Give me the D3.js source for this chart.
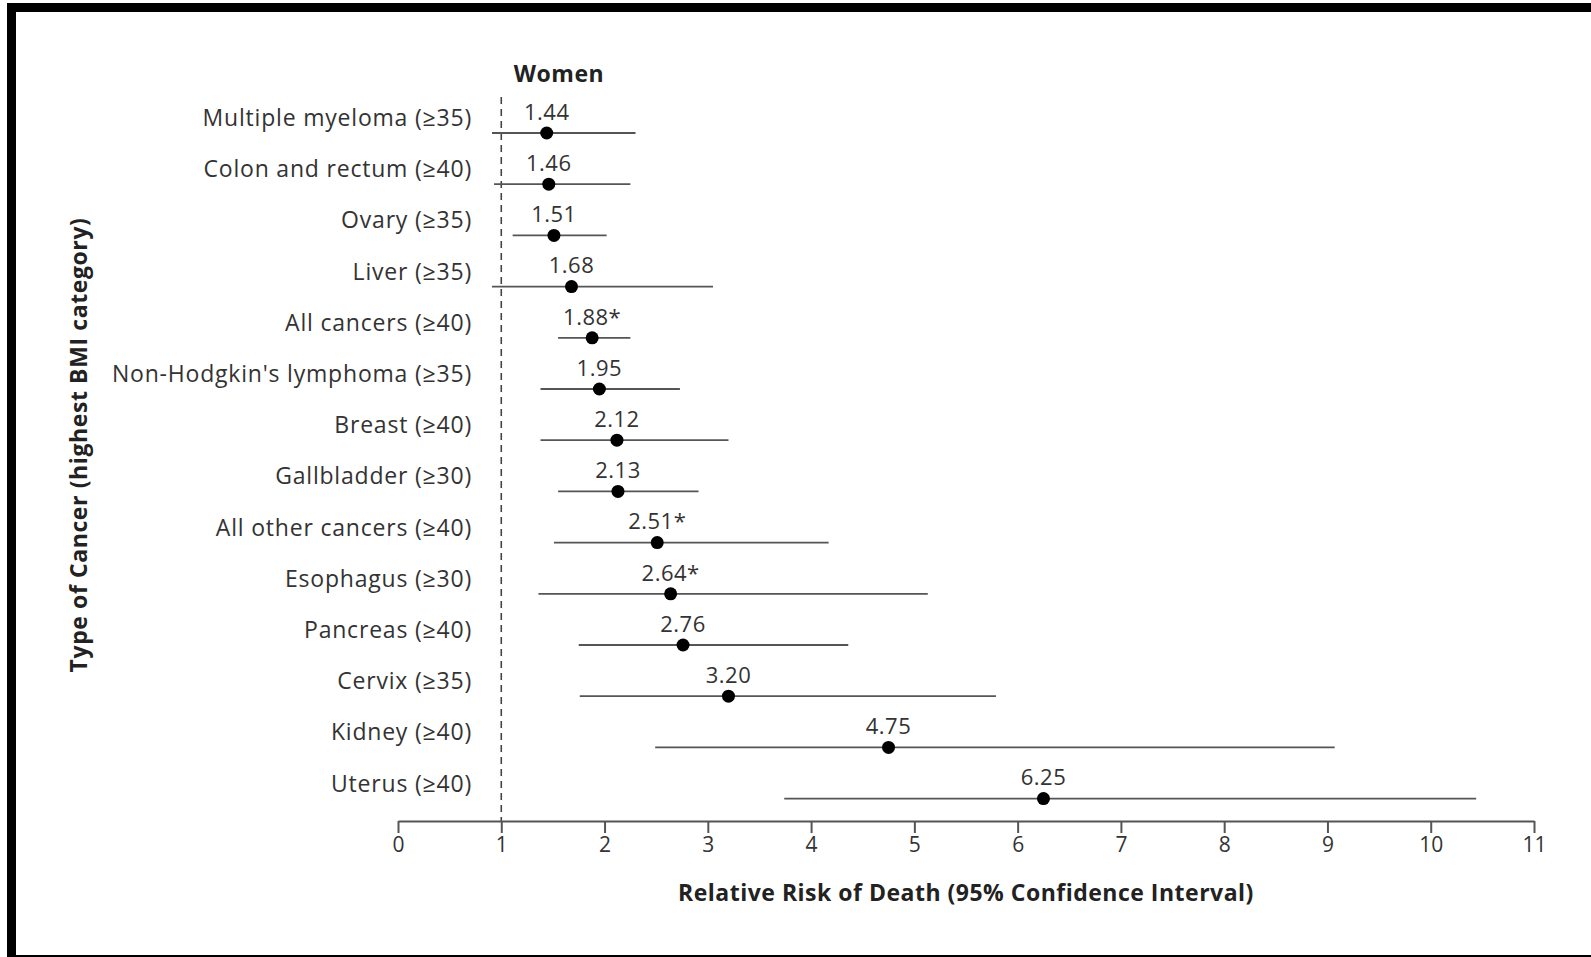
<!DOCTYPE html>
<html>
<head>
<meta charset="utf-8">
<script src="https://cdn.jsdelivr.net/npm/d3@7"></script>
<style>
  body { margin: 0; background: #fff; }
  svg { display: block; }
</style>
</head>
<body>
<div id="chart"></div>
<script>
// data
var cancers = ["Multiple myeloma (≥35)", "Colon and rectum (≥40)", "Ovary (≥35)", "Liver (≥35)",
    "All cancers (≥40)", "Non-Hodgkin's lymphoma (≥35)", "Breast (≥40)", "Gallbladder (≥30)",
    "All other cancers (≥40)", "Esophagus (≥30)", "Pancreas (≥40)", "Cervix (≥35)",
    "Kidney (≥40)", "Uterus (≥40)"];
var riskValues = [1.44, 1.46, 1.51, 1.68, 1.88, 1.95, 2.12, 2.13, 2.51, 2.64, 2.76, 3.20, 4.75, 6.25];
var lowerCI = [0.91, 0.93, 1.11, 0.91, 1.55, 1.38, 1.38, 1.55, 1.51, 1.36, 1.75, 1.76, 2.49, 3.74];
var upperCI = [2.30, 2.25, 2.02, 3.05, 2.25, 2.73, 3.20, 2.91, 4.17, 5.13, 4.36, 5.79, 9.07, 10.44];
var riskLabels = ["1.44", "1.46", "1.51", "1.68", "1.88*", "1.95", "2.12", "2.13", "2.51*", "2.64*", "2.76", "3.20", "4.75", "6.25"];
var xTicks = [0, 1, 2, 3, 4, 5, 6, 7, 8, 9, 10, 11];

var width = 1591, height = 957;
var fontFamily = "'Open Sans', 'Noto Sans', sans-serif";

var svg = d3.select("#chart").append("svg")
    .attr("width", width)
    .attr("height", height);

// frame: thick top and left, thin bottom
svg.append("rect").attr("x", 7).attr("y", 3).attr("width", width - 7).attr("height", 9).attr("fill", "#000");
svg.append("rect").attr("x", 7).attr("y", 3).attr("width", 9).attr("height", height - 3).attr("fill", "#000");
svg.append("rect").attr("x", 7).attr("y", height - 2).attr("width", width - 7).attr("height", 2).attr("fill", "#000");

var x = d3.scaleLinear().domain([0, 11]).range([398, 1534]);
var y = d3.scalePoint().domain(cancers).range([133, 798.6]);
var axisY = 821;

var rows = cancers.map(function (d, i) {
    return {name: d, rr: riskValues[i], lo: lowerCI[i], hi: upperCI[i], label: riskLabels[i]};
});

// reference line at RR = 1
svg.append("line")
    .attr("x1", x(1)).attr("x2", x(1))
    .attr("y1", 97).attr("y2", axisY)
    .attr("stroke", "#444")
    .attr("stroke-width", 1.6)
    .attr("stroke-dasharray", "7,5");

// x axis
var xAxis = svg.append("g")
    .attr("transform", "translate(0," + axisY + ")")
    .call(d3.axisBottom(x).tickValues(xTicks).tickSize(12).tickSizeOuter(0).tickPadding(4));
xAxis.select(".domain").attr("stroke", "#555").attr("stroke-width", 2);
xAxis.selectAll(".tick line").attr("stroke", "#555").attr("stroke-width", 2);
xAxis.selectAll(".tick text")
    .attr("font-family", fontFamily)
    .attr("font-size", 21)
    .attr("fill", "#333");

// category labels
svg.append("g").selectAll("text")
    .data(rows)
    .enter().append("text")
    .attr("x", 472)
    .attr("y", function (d) { return y(d.name) - 15; })
    .attr("dy", "0.35em")
    .attr("text-anchor", "end")
    .attr("font-family", fontFamily)
    .attr("font-size", 23)
    .attr("letter-spacing", 0.8)
    .attr("fill", "#333")
    .text(function (d) { return d.name; });

// confidence intervals
svg.append("g").selectAll("line")
    .data(rows)
    .enter().append("line")
    .attr("x1", function (d) { return x(d.lo); })
    .attr("x2", function (d) { return x(d.hi); })
    .attr("y1", function (d) { return y(d.name); })
    .attr("y2", function (d) { return y(d.name); })
    .attr("stroke", "#555")
    .attr("stroke-width", 1.8);

// point estimates
svg.append("g").selectAll("circle")
    .data(rows)
    .enter().append("circle")
    .attr("cx", function (d) { return x(d.rr); })
    .attr("cy", function (d) { return y(d.name); })
    .attr("r", 6.5)
    .attr("fill", "#000");

// value labels
svg.append("g").selectAll("text")
    .data(rows)
    .enter().append("text")
    .attr("x", function (d) { return x(d.rr); })
    .attr("y", function (d) { return y(d.name) - 21; })
    .attr("dy", "0.35em")
    .attr("text-anchor", "middle")
    .attr("font-family", fontFamily)
    .attr("font-size", 22)
    .attr("letter-spacing", 0.5)
    .attr("fill", "#333")
    .text(function (d) { return d.label; });

// titles
svg.append("text")
    .attr("x", 559).attr("y", 74)
    .attr("dy", "0.35em")
    .attr("text-anchor", "middle")
    .attr("font-family", fontFamily)
    .attr("font-size", 23)
    .attr("letter-spacing", 0.5)
    .attr("font-weight", "bold")
    .attr("fill", "#222")
    .text("Women");

svg.append("text")
    .attr("x", (x(0) + x(11)) / 2).attr("y", 893)
    .attr("dy", "0.35em")
    .attr("text-anchor", "middle")
    .attr("font-family", fontFamily)
    .attr("font-size", 23)
    .attr("letter-spacing", 0.5)
    .attr("font-weight", "bold")
    .attr("fill", "#222")
    .text("Relative Risk of Death (95% Confidence Interval)");

svg.append("text")
    .attr("transform", "translate(79,445) rotate(-90)")
    .attr("dy", "0.35em")
    .attr("text-anchor", "middle")
    .attr("font-family", fontFamily)
    .attr("font-size", 23)
    .attr("letter-spacing", 0.6)
    .attr("font-weight", "bold")
    .attr("fill", "#222")
    .text("Type of Cancer (highest BMI category)");
</script>
</body>
</html>
